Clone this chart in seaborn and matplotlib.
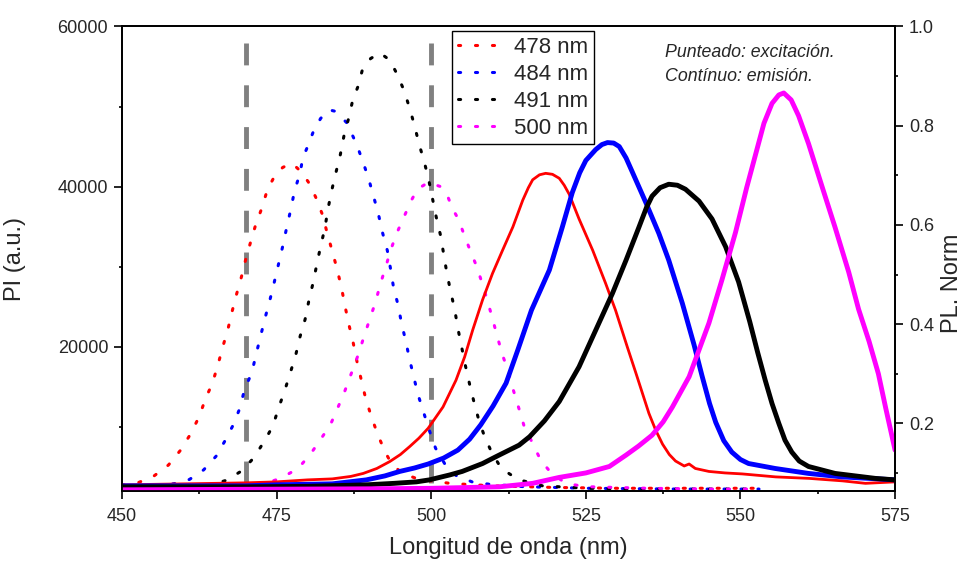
import numpy as np
import pandas as pd
import matplotlib
matplotlib.use("Agg")
import matplotlib.pyplot as plt
from matplotlib.lines import Line2D
from matplotlib.ticker import FixedLocator
import seaborn as sns

# ---------------- data ----------------
labels = ["478 nm", "484 nm", "491 nm", "500 nm"]
colors = ["#FF0000", "#0000FF", "#000000", "#FF00FF"]

# excitation spectra (dotted, left axis, PI a.u.)
exc_478_wl = [450, 452.6, 455.1, 457.5, 459.4, 461.1, 462.5, 463.5, 464.6, 465.5, 466.3, 467.1, 467.8, 468.5, 469.3,
              470.0, 470.8, 471.6, 472.6, 473.5, 474.8, 476.0, 477.5, 478.9, 480.1, 481.3, 482.4, 483.2, 484.0,
              484.8, 485.5, 486.1, 486.7, 487.4, 488.0, 488.7, 489.4, 490.3, 491.3, 492.5, 493.7, 495.5, 498.1,
              503.2, 510, 520, 530, 540, 553]
exc_478 = [2700, 3000, 3800, 5200, 7000, 9100, 11300, 13500, 15400, 17700, 20000, 22100, 24400, 26500, 28700,
           30900, 33100, 35200, 37300, 39600, 41500, 42400, 42900, 41900, 40600, 38700, 36500, 34100, 31900,
           29600, 27300, 24900, 22700, 20400, 18100, 15800, 13500, 11300, 9100, 6900, 5200, 4100, 3400,
           2900, 2600, 2400, 2300, 2300, 2300]

exc_484_wl = [450, 455, 458.6, 460.9, 463.2, 465.2, 466.7, 467.9, 469.0, 469.8, 471.0, 471.7, 472.4, 473.1, 473.9,
              474.6, 475.3, 476.0, 476.6, 477.3, 477.9, 478.8, 479.2, 480.0, 480.9, 482.1, 483.4, 484.5, 486.3,
              487.5, 488.2, 489.0, 489.9, 490.7, 491.5, 492.1, 492.9, 493.4, 493.9, 494.6, 495.2, 495.9, 496.5,
              497.2, 497.9, 498.8, 499.7, 500.7, 502.3, 504, 506.6, 509.4, 515, 525, 540, 553]
exc_484 = [2300, 2500, 2900, 3400, 4600, 6300, 8300, 10100, 12200, 14600, 16800, 19100, 21300, 23500, 25800,
           28000, 30300, 32600, 34800, 37200, 39500, 41700, 43500, 45000, 46800, 48500, 49600, 49400, 48000,
           46000, 44700, 43000, 40900, 38700, 36400, 34300, 32000, 29800, 27400, 25300, 22900, 20600, 18400,
           16100, 13900, 11700, 9500, 7300, 5200, 3900, 3100, 2800, 2500, 2300, 2200, 2200]

exc_491_wl = [450, 458, 462, 464.2, 466.9, 469.4, 471.3, 473.1, 474.4, 475.3, 476.3, 477.2, 478.1, 478.8, 479.6,
              480.2, 480.9, 481.5, 482.1, 482.8, 483.3, 483.9, 484.6, 485.3, 485.9, 486.7, 487.3, 488.2, 488.9,
              490.2, 491.7, 493.3, 494.5, 495.6, 496.5, 497.3, 498.0, 498.9, 499.6, 500.2, 500.8, 501.5, 502.0,
              502.5, 503.1, 503.8, 504.3, 504.9, 505.5, 506.2, 506.9, 507.7, 508.6, 509.7, 511.3, 514.0, 518,
              525, 535, 545, 553]
exc_491 = [2100, 2200, 2400, 2700, 3300, 4500, 6100, 8300, 10100, 12300, 14500, 16700, 19000, 21300, 23400,
           25700, 28000, 30300, 32500, 34800, 37200, 39500, 41800, 44000, 46400, 48700, 50800, 52600, 54700,
           56000, 56700, 55800, 54000, 52000, 49800, 47600, 45400, 43000, 40800, 38500, 36200, 33900, 31600,
           29300, 27000, 24600, 22300, 20000, 17700, 15300, 13100, 10800, 8800, 6900, 4800, 3400, 2600,
           2300, 2200, 2200, 2200]

exc_500_wl = [450, 465, 470, 473.4, 475.8, 478.5, 480.5, 482.1, 483.7, 484.8, 486.0, 487.1, 488.2, 489.1, 490.0,
              491.0, 491.8, 492.7, 493.4, 494.5, 495.7, 496.8, 497.8, 499.5, 500.3, 501.5, 502.7, 503.4, 504.4,
              505.4, 506.3, 507.3, 508.2, 509.1, 509.9, 510.7, 511.5, 512.5, 513.3, 514.2, 515.0, 516.4, 517.7,
              519.4, 521.8, 525, 535, 545, 553]
exc_500 = [2000, 2100, 2400, 2950, 3600, 4800, 6600, 8400, 10250, 12200, 14400, 16700, 19000, 21200, 23300,
           25600, 27900, 30100, 32000, 34300, 36400, 38300, 39700, 40500, 40300, 40000, 38700, 37300, 35900,
           33800, 32000, 30100, 28000, 25700, 23500, 21200, 19000, 16800, 14500, 12200, 10100, 7900, 5800,
           4200, 2900, 2500, 2300, 2200, 2200]

# emission spectra (solid, right axis, PL normalised)
em_478_wl = [450, 460, 470, 475, 480, 484, 487, 489, 491.2, 493.3, 495, 496.5, 498, 499.5, 501.9, 504.0, 505.4,
             506.7, 508.3, 509.9, 511.5, 513.2, 514.8, 515.7, 516.4, 517.5, 518.5, 519.6, 520.7, 521.5, 522.3,
             523.9, 526.1, 528.2, 529.8, 531.7, 533.1, 535.2, 536.3, 537.4, 538.5, 539.5, 540.9, 541.7, 542.7,
             544.9, 547.5, 550.3, 555.7, 561.1, 566.5, 570.2, 575]
em_478 = [0.076, 0.078, 0.080, 0.082, 0.086, 0.088, 0.093, 0.099, 0.109, 0.123, 0.137, 0.153, 0.170, 0.190,
          0.233, 0.287, 0.334, 0.388, 0.449, 0.502, 0.548, 0.596, 0.650, 0.675, 0.691, 0.701, 0.704, 0.702,
          0.694, 0.680, 0.662, 0.612, 0.549, 0.482, 0.428, 0.354, 0.301, 0.220, 0.186, 0.158, 0.137, 0.124,
          0.114, 0.118, 0.109, 0.103, 0.100, 0.098, 0.092, 0.089, 0.084, 0.079, 0.082]

em_484_wl = [450, 470, 475, 484, 489.5, 492.5, 494.9, 497.3, 499.5, 502, 504.3, 506.2, 508, 510, 512.1, 514.0,
             516.2, 519.1, 521.2, 522.8, 524, 525.0, 526.6, 527.6, 528.5, 529.5, 530.4, 531.5, 532.5, 534.7,
             536.8, 538.4, 540.6, 542.5, 543.8, 545, 546.0, 547.3, 548.6, 550, 551.3, 555.6, 561.0, 566.4, 575]
em_484 = [0.074, 0.074, 0.076, 0.078, 0.086, 0.094, 0.103, 0.110, 0.118, 0.130, 0.146, 0.168, 0.197, 0.235,
          0.281, 0.348, 0.428, 0.509, 0.596, 0.665, 0.705, 0.730, 0.752, 0.762, 0.766, 0.765, 0.758, 0.735,
          0.707, 0.645, 0.583, 0.529, 0.442, 0.358, 0.295, 0.240, 0.202, 0.165, 0.142, 0.127, 0.119, 0.109,
          0.099, 0.092, 0.086]

em_491_wl = [450, 470, 480, 489.5, 494, 497.6, 499.7, 503, 505, 508.3, 510.5, 514.2, 515.9, 518.3, 520.7, 523.9,
             526.6, 529.3, 531.5, 533.6, 534.8, 535.7, 537, 538.4, 539.8, 541.1, 543.3, 545.4, 547.6, 549.7,
             551.5, 552.8, 554.0, 555.1, 556.2, 557.2, 558.3, 559.5, 561.0, 565.3, 571.8, 575]
em_491 = [0.072, 0.072, 0.073, 0.076, 0.079, 0.082, 0.086, 0.096, 0.103, 0.119, 0.133, 0.156, 0.173, 0.205,
          0.244, 0.314, 0.388, 0.462, 0.529, 0.596, 0.635, 0.658, 0.675, 0.682, 0.680, 0.672, 0.648, 0.612,
          0.556, 0.485, 0.405, 0.342, 0.287, 0.240, 0.200, 0.166, 0.142, 0.124, 0.113, 0.099, 0.089, 0.086]

em_500_wl = [450, 470, 490, 500, 511, 516.4, 520.7, 525, 528.8, 531.5, 533.5, 535.7, 537.5, 539.0, 541.7, 543.3,
             544.9, 547.0, 549.2, 551.0, 552.4, 553.8, 555.1, 556.2, 557.0, 558.2, 559.4, 561.0, 563.2, 565.3,
             567.5, 569.1, 570.8, 572.3, 573.5, 575]
em_500 = [0.066, 0.067, 0.068, 0.069, 0.072, 0.079, 0.091, 0.100, 0.113, 0.136, 0.154, 0.176, 0.203, 0.233,
          0.294, 0.348, 0.402, 0.489, 0.585, 0.675, 0.740, 0.805, 0.845, 0.862, 0.866, 0.852, 0.820, 0.764,
          0.677, 0.595, 0.505, 0.430, 0.365, 0.300, 0.230, 0.146]

marker_wl = [470, 500]          # grey dashed reference lines
marker_span = [58000, 1960]

x_ticks = [450, 475, 500, 525, 550, 575]
yl_ticks = [20000, 40000, 60000]
yr_ticks = [0.2, 0.4, 0.6, 0.8, 1.0]

exc = [(exc_478_wl, exc_478), (exc_484_wl, exc_484), (exc_491_wl, exc_491), (exc_500_wl, exc_500)]
emi = [(em_478_wl, em_478), (em_484_wl, em_484), (em_491_wl, em_491), (em_500_wl, em_500)]
em_lw = [2.0, 3.5, 3.5, 3.5]

# ---------------- plot ----------------
sns.set_style("ticks")
plt.rcParams["font.family"] = ["Liberation Sans", "DejaVu Sans"]

fig = plt.figure(figsize=(9.64, 5.65), dpi=100)
ax = fig.add_axes([0.1266, 0.1310, 0.8019, 0.8221])

for m in marker_wl:
    ax.plot([m, m], marker_span, color="#808080", lw=3.5, linestyle=(0, (4.5, 4.1)), solid_capstyle="butt")

dot = (0, (0.7, 4.85))
for (wl, v), c in zip(exc, colors):
    sns.lineplot(x=wl, y=v, ax=ax, color=c, lw=2.2, linestyle=dot, dash_capstyle="round",
                 estimator=None, sort=False)

ax2 = ax.twinx()
for (wl, v), c, lw in zip(emi, colors, em_lw):
    sns.lineplot(x=wl, y=v, ax=ax2, color=c, lw=lw, estimator=None, sort=False)

ax.set_xlim(450, 575)
ax.set_ylim(1960, 60000)
ax2.set_ylim(0.0636, 1.0)

ax.set_xticks(x_ticks)
ax.xaxis.set_minor_locator(FixedLocator([462.5, 487.5, 512.5, 537.5, 562.5]))
ax.set_yticks(yl_ticks)
ax.yaxis.set_minor_locator(FixedLocator([10000, 30000, 50000]))
ax2.set_yticks(yr_ticks)
ax2.yaxis.set_minor_locator(FixedLocator([0.1, 0.3, 0.5, 0.7, 0.9]))

for a in (ax, ax2):
    a.tick_params(which="major", direction="out", length=6, width=1.2, labelsize=13, pad=4, color="black")
    a.tick_params(which="minor", direction="out", length=2.5, width=1.2, color="black")
    for s in a.spines.values():
        s.set_linewidth(1.3)
        s.set_color("black")
        s.set_visible(True)
ax.tick_params(axis="x", which="major", pad=6)
ax.tick_params(right=False, top=False, which="both")
ax2.tick_params(axis="y", left=False, right=True, which="both")

ax.set_xlabel("Longitud de onda (nm)", fontsize=17, labelpad=9)
ax.set_ylabel("PI (a.u.)", fontsize=17)
ax.yaxis.set_label_coords(-0.124, 0.5)
ax2.set_ylabel("PL. Norm", fontsize=17, rotation=90)
ax2.yaxis.set_label_coords(1.060, 0.448)

handles = [Line2D([], [], color=c, lw=2.2, linestyle=dot, dash_capstyle="round") for c in colors]
leg = ax2.legend(handles, labels, loc="upper left", bbox_to_anchor=(0.427, 0.990), borderaxespad=0,
                 frameon=True, fancybox=False, framealpha=1, edgecolor="black", fontsize=16,
                 handlelength=1.85, handletextpad=0.7, labelspacing=0.27, borderpad=0.25)
leg.get_frame().set_linewidth(1.0)

ax2.text(0.702, 0.945, "Punteado: excitación.", transform=ax2.transAxes, fontsize=12.8,
         style="italic", va="center", ha="left")
ax2.text(0.702, 0.893, "Contínuo: emisión.", transform=ax2.transAxes, fontsize=12.8,
         style="italic", va="center", ha="left")

fig.savefig("out.png", dpi=100)
